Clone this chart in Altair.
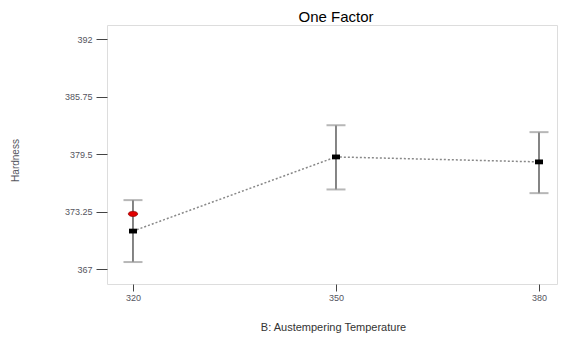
import altair as alt
import pandas as pd

temps = [320, 350, 380]
means = [371.13, 379.2, 378.66]
upper = [374.5, 382.65, 381.9]
lower = [367.76, 375.66, 375.26]
actual_x = [320]
actual_y = [373.0]
y_ticks = [367, 373.25, 379.5, 385.75, 392]
x_ticks = [320, 350, 380]
chart_title = ["One Factor"]

df = pd.DataFrame({"temp": temps, "mean": means, "upper": upper, "lower": lower})
df_act = pd.DataFrame({"temp": actual_x, "val": actual_y})
df_title = pd.DataFrame({"t": chart_title})

FONT = "Liberation Sans"
xdom = [316.16, 382.66]
ydom = [365.37, 393.56]
W, H = 450, 259

xscale = alt.Scale(domain=xdom, nice=False, zero=False)
yscale = alt.Scale(domain=ydom, nice=False, zero=False)

xaxis = alt.Axis(
    values=x_ticks, title="B: Austempering Temperature", grid=False, domain=False,
    tickSize=7, tickColor="#444", tickWidth=1, labelFont=FONT, labelFontSize=9,
    labelColor="#555560", labelPadding=2, titleFont=FONT, titleFontSize=11,
    titleFontWeight="normal", titleColor="#333", titleX=226, titleY=43,
    titleBaseline="middle", titleAlign="center",
)
yaxis = alt.Axis(
    values=y_ticks, title="Hardness", grid=False, domain=False,
    tickSize=11, tickColor="#444", tickWidth=1, labelFont=FONT, labelFontSize=9,
    labelColor="#555560", labelPadding=4, labelExpr="'' + datum.value",
    titleFont=FONT, titleFontSize=10, titleFontWeight="normal", titleColor="#555560",
    titleX=-92, titleY=135, titleAngle=270, titleBaseline="middle", titleAlign="center",
)

base = alt.Chart(df)

line = base.mark_line(color="#888", strokeDash=[2, 2], strokeWidth=1.5).encode(
    x=alt.X("temp:Q", scale=xscale, axis=xaxis),
    y=alt.Y("mean:Q", scale=yscale, axis=yaxis),
)
stems = base.mark_rule(color="#333", strokeWidth=1.2).encode(
    x=alt.X("temp:Q", scale=xscale), y=alt.Y("lower:Q", scale=yscale), y2="upper:Q"
)
cap_up = base.mark_tick(orient="horizontal", size=19, thickness=2, color="#999").encode(
    x=alt.X("temp:Q", scale=xscale), y=alt.Y("upper:Q", scale=yscale)
)
cap_lo = base.mark_tick(orient="horizontal", size=19, thickness=2, color="#999").encode(
    x=alt.X("temp:Q", scale=xscale), y=alt.Y("lower:Q", scale=yscale)
)
rect_shape = "M-1,-0.6L1,-0.6L1,0.6L-1,0.6Z"
markers = base.mark_point(shape=rect_shape, size=64, filled=True, color="black", opacity=1).encode(
    x=alt.X("temp:Q", scale=xscale), y=alt.Y("mean:Q", scale=yscale)
)
ell_shape = "M-1,0A1,0.55,0,1,1,1,0A1,0.55,0,1,1,-1,0Z"
actual = alt.Chart(df_act).mark_point(
    shape=ell_shape, size=90, filled=True, fill="#e00000", stroke="#800000",
    strokeWidth=0.6, opacity=1
).encode(
    x=alt.X("temp:Q", scale=xscale), y=alt.Y("val:Q", scale=yscale)
)
title = alt.Chart(df_title).mark_text(
    font=FONT, fontSize=15, color="black", align="center", baseline="alphabetic"
).encode(text="t:N", x=alt.value(229), y=alt.value(-3))

chart = alt.layer(line, stems, cap_up, cap_lo, markers, actual, title).properties(
    width=W, height=H,
    autosize=alt.AutoSizeParams(type="none"),
    padding={"left": 99, "top": 17, "right": 1, "bottom": 49},
).configure_view(stroke="#7a7a7a", strokeWidth=2).configure(background="white")

chart.save("out.html", embed_options={"renderer": "svg", "actions": False})
